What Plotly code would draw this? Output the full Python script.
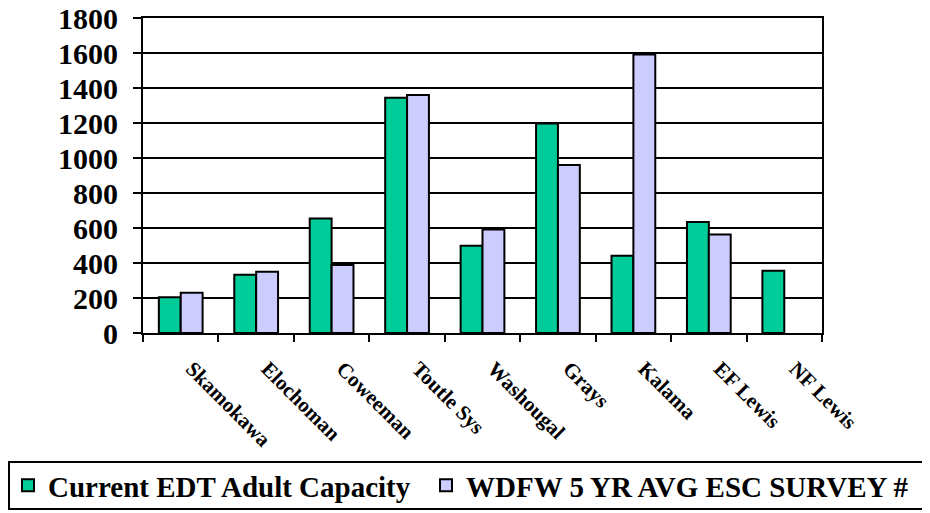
import plotly.graph_objects as go

categories = ["Skamokawa", "Elochoman", "Coweeman", "Toutle Sys", "Washougal",
              "Grays", "Kalama", "EF Lewis", "NF Lewis"]
edt_capacity = [205, 333, 655, 1345, 498, 1197, 442, 634, 356]
wdfw_avg = [230, 350, 389, 1360, 592, 960, 1592, 563, None]
y_ticks = [0, 200, 400, 600, 800, 1000, 1200, 1400, 1600, 1800]

FONT = "Liberation Serif, Times New Roman, serif"

# page body has an 8px margin, so the figure is sized to fit the window
W, H = 922, 505
L, T, PW, PH = 135, 10, 679, 315

fig = go.Figure()
fig.add_trace(go.Bar(
    x=categories, y=edt_capacity, name="<b>Current EDT Adult Capacity</b>",
    marker=dict(color="#00CC99", line=dict(color="black", width=2)),
    legend="legend",
))
fig.add_trace(go.Bar(
    x=categories, y=wdfw_avg, name="<b>WDFW 5 YR AVG ESC SURVEY #</b>",
    marker=dict(color="#CCCCFF", line=dict(color="black", width=2)),
    legend="legend2",
))

legend_common = dict(
    orientation="h", xref="container", yref="container",
    y=1 - 452 / H, xanchor="left", yanchor="top",
    font=dict(family=FONT, size=29, color="black"),
    bgcolor="rgba(0,0,0,0)", borderwidth=0,
)

fig.update_layout(
    width=W, height=H,
    margin=dict(l=L, r=W - L - PW, t=T, b=H - T - PH, autoexpand=False),
    paper_bgcolor="white", plot_bgcolor="white",
    barmode="group", bargap=0.42, bargroupgap=0,
    font=dict(family=FONT, color="black"),
    showlegend=True,
    legend=dict(x=0.0, **legend_common),
    legend2=dict(x=418 / W, **legend_common),
    xaxis=dict(
        type="category", tickson="boundaries", ticks="outside", ticklen=7,
        tickwidth=2, tickcolor="black", automargin=False,
        showline=True, linecolor="black", linewidth=2, mirror=True,
        tickangle=45, ticklabelstandoff=2,
        tickfont=dict(family=FONT, size=21, color="black"),
        tickprefix="<b>\u00a0\u00a0\u00a0", ticksuffix="</b>",
        showgrid=False,
    ),
    yaxis=dict(
        range=[0, 1800], tickvals=y_ticks, automargin=False,
        ticktext=[f"<b>{v}</b>" for v in y_ticks],
        ticks="outside", ticklen=8, tickwidth=2, tickcolor="black",
        showline=True, linecolor="black", linewidth=2, mirror=True,
        showgrid=True, gridcolor="black", gridwidth=2,
        tickfont=dict(family=FONT, size=30, color="black"),
        ticklabelstandoff=9, ticklabeloverflow="allow",
        zeroline=False,
    ),
    shapes=[dict(
        type="rect", xref="paper", yref="paper",
        x0=(1 - L) / PW, x1=(917 - L) / PW,
        y0=-(501 - T - PH) / PH, y1=-(454 - T - PH) / PH,
        line=dict(color="black", width=2), fillcolor="rgba(0,0,0,0)",
    )],
)

fig.write_html("out.html")
